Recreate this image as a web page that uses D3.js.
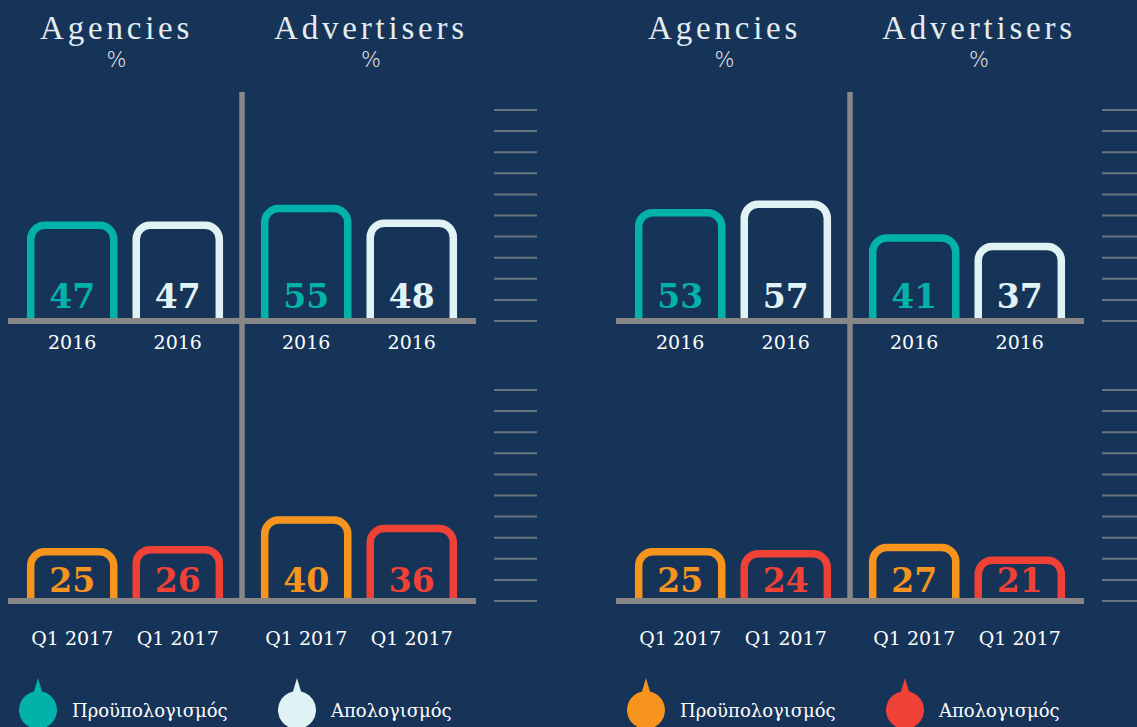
<!DOCTYPE html>
<html>
<head>
<meta charset="utf-8">
<script src="https://cdn.jsdelivr.net/npm/d3@7"></script>
<style>
  html, body { margin: 0; padding: 0; background: #163457; }
  svg { display: block; }
</style>
</head>
<body>
<div id="chart"></div>
<script>
// categories
var groups = ["Agencies", "Advertisers"];
var periods = ["2016", "Q1 2017"];
var seriesNames = ["Προϋπολογισμός", "Απολογισμός"];

// left block
var leftBudget2016 = [47, 55];
var leftActual2016 = [47, 48];
var leftBudgetQ1 = [25, 40];
var leftActualQ1 = [26, 36];

// right block
var rightBudget2016 = [53, 41];
var rightActual2016 = [57, 37];
var rightBudgetQ1 = [25, 27];
var rightActualQ1 = [24, 21];

var width = 1137, height = 727;
var bg = "#163457", axisGrey = "#878787";
var topColors = ["#00b2a9", "#e1f2f5"];
var bottomColors = ["#f7941e", "#ef4136"];

var svg = d3.select("#chart").append("svg")
  .attr("width", width)
  .attr("height", height);

svg.append("rect").attr("width", width).attr("height", height).attr("fill", bg);

var panelW = 468;
var rowBase = [321, 601];      // axis centre of each row
var labelOff = [13, 9];        // value label baseline above axis
var catOff = [28, 44];         // category label baseline below axis

var outer = d3.scaleBand().domain(groups).range([0, panelW]);
var inner = d3.scaleBand().domain([0, 1]).range([0, outer.bandwidth()])
  .paddingInner(0.213).paddingOuter(0.215);

var yScales = rowBase.map(function(b) {
  return d3.scaleLinear().domain([0, 100]).range([b, b - 211]);
});

var blocks = [
  { x0: 8, rows: [[leftBudget2016, leftActual2016], [leftBudgetQ1, leftActualQ1]], legend: topColors },
  { x0: 616, rows: [[rightBudget2016, rightActual2016], [rightBudgetQ1, rightActualQ1]], legend: bottomColors }
];

function barPath(x0, x1, top, base, r) {
  return "M" + x0 + "," + base +
    "L" + x0 + "," + (top + r) +
    "A" + r + "," + r + " 0 0 1 " + (x0 + r) + "," + top +
    "L" + (x1 - r) + "," + top +
    "A" + r + "," + r + " 0 0 1 " + x1 + "," + (top + r) +
    "L" + x1 + "," + base;
}

blocks.forEach(function(bl) {
  var g = svg.append("g").attr("transform", "translate(" + bl.x0 + ",0)");

  // titles
  groups.forEach(function(name) {
    var tx = outer(name) + 32;
    var t = g.append("text")
      .attr("x", tx).attr("y", 39)
      .attr("fill", "#e6edf2")
      .style("font-family", "'Liberation Serif', serif")
      .style("font-size", "33px")
      .style("letter-spacing", "3.8px")
      .text(name);
    var w = t.node().getComputedTextLength();
    g.append("text")
      .attr("x", tx + w / 2).attr("y", 67)
      .attr("text-anchor", "middle")
      .attr("fill", "#e6edf2")
      .style("font-family", "'DejaVu Sans', sans-serif")
      .style("font-weight", "200")
      .style("font-size", "21px")
      .text("%");
  });

  // tick marks at the right
  yScales.forEach(function(y) {
    g.append("g").selectAll("line")
      .data(y.ticks(10))
      .enter().append("line")
      .attr("x1", panelW + 18).attr("x2", panelW + 61)
      .attr("y1", function(d) { return y(d); })
      .attr("y2", function(d) { return y(d); })
      .attr("stroke", "#68757f")
      .attr("stroke-width", 2);
  });

  bl.rows.forEach(function(row, ri) {
    var y = yScales[ri];
    var cols = ri === 0 ? topColors : bottomColors;
    var base = rowBase[ri];
    var data = [];
    groups.forEach(function(gName, gi) {
      row.forEach(function(vals, si) {
        data.push({ group: gName, s: si, v: vals[gi] });
      });
    });

    var bars = g.append("g").selectAll("g").data(data).enter().append("g");
    bars.append("path")
      .attr("d", function(d) {
        var x0 = outer(d.group) + inner(d.s);
        return barPath(x0, x0 + inner.bandwidth(), y(d.v) + 3.5, base, 14);
      })
      .attr("fill", "none")
      .attr("stroke", function(d) { return cols[d.s]; })
      .attr("stroke-width", 7.5);

    bars.append("text")
      .attr("x", function(d) { return outer(d.group) + inner(d.s) + inner.bandwidth() / 2; })
      .attr("y", base - labelOff[ri])
      .attr("text-anchor", "middle")
      .attr("fill", function(d) { return cols[d.s]; })
      .style("font-family", "'DejaVu Serif', serif")
      .style("font-weight", "bold")
      .style("font-size", "33px")
      .text(function(d) { return d.v; });

    bars.append("text")
      .attr("x", function(d) { return outer(d.group) + inner(d.s) + inner.bandwidth() / 2; })
      .attr("y", base + catOff[ri])
      .attr("text-anchor", "middle")
      .attr("fill", "#ffffff")
      .style("font-family", "'DejaVu Serif', serif")
      .style("font-size", "19px")
      .text(periods[ri]);

    // baseline
    g.append("line")
      .attr("x1", 0).attr("x2", panelW)
      .attr("y1", base).attr("y2", base)
      .attr("stroke", axisGrey).attr("stroke-width", 6);
  });

  // divider
  g.append("line")
    .attr("x1", panelW / 2).attr("x2", panelW / 2)
    .attr("y1", 92).attr("y2", rowBase[1] + 3)
    .attr("stroke", axisGrey).attr("stroke-width", 5.5);

  // legend
  var legendX = [30, 289];
  var leg = g.append("g").selectAll("g").data(seriesNames).enter().append("g")
    .attr("transform", function(d, i) { return "translate(" + legendX[i] + ",709)"; });
  leg.append("path")
    .attr("d", "M0,-31 L4,-17.5 A19,19 0 1 1 -4,-17.5 Z")
    .attr("fill", function(d, i) { return bl.legend[i]; });
  leg.append("text")
    .attr("x", 34).attr("y", 8)
    .attr("fill", "#ffffff")
    .style("font-family", "'DejaVu Serif', serif")
    .style("font-size", "18px")
    .text(function(d) { return d; });
});
</script>
</body>
</html>
